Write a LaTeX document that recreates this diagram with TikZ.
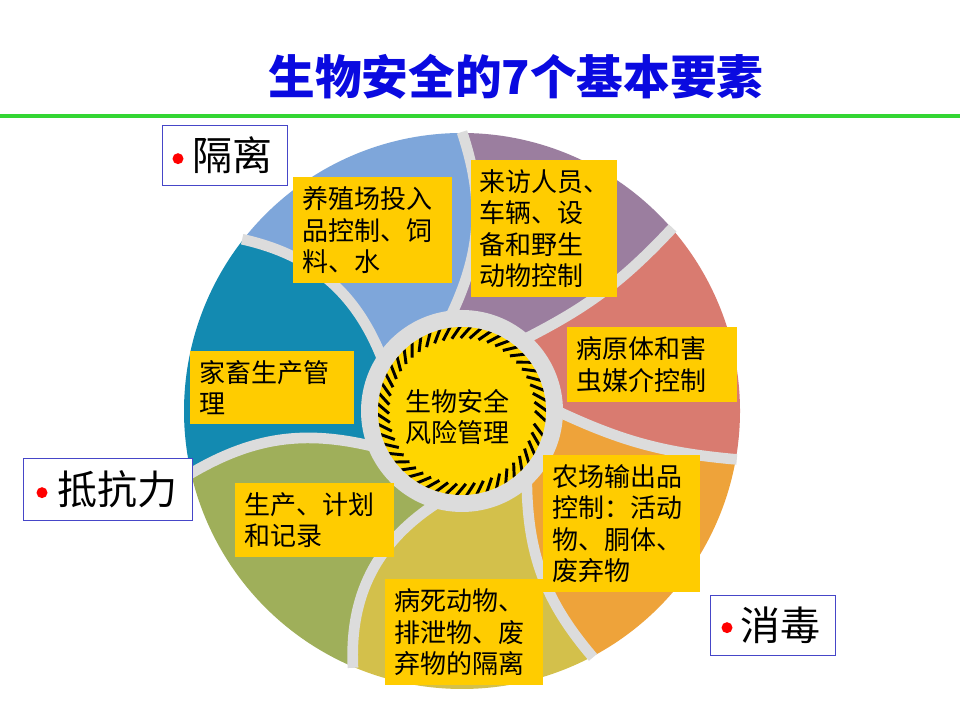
\documentclass[tikz,border=0pt]{standalone}
\usepackage{fontspec}
\usepackage{xcolor}
\usepackage{tikz}
\usetikzlibrary{calc}

\newfontfamily\cjk{Noto Sans CJK SC}

\definecolor{titleblue}{HTML}{0A0AE0}
\definecolor{rulegreen}{HTML}{33D633}
\definecolor{tagyellow}{HTML}{FFCC00}
\definecolor{coreyellow}{HTML}{FFD600}
\definecolor{keyblue}{HTML}{4646C8}
\definecolor{gapgray}{HTML}{DCDCDC}
\definecolor{wblue}{HTML}{7EA6DA}
\definecolor{wpurple}{HTML}{9B7E9F}
\definecolor{wsalmon}{HTML}{D97B70}
\definecolor{worange}{HTML}{EEA33A}
\definecolor{wgold}{HTML}{D3C04B}
\definecolor{wolive}{HTML}{9FAF5A}
\definecolor{wteal}{HTML}{138AB1}

\begin{document}
\begin{tikzpicture}[
    x=0.75pt, y=0.75pt,
    tag/.style={rectangle, fill=tagyellow, anchor=north west, inner xsep=7pt, inner ysep=0pt, align=left, font=\cjk\fontsize{19.5}{23.5}\selectfont},
    keybox/.style={rectangle, draw=keyblue, line width=1pt, fill=white, anchor=north west, inner xsep=11.25pt, inner ysep=0pt, text width=71.25pt, align=right, minimum height=45pt, font=\cjk\fontsize{30}{32}\selectfont},
    reddot/.style={fill=red},
    gap/.style={draw=gapgray, line width=8pt},
    stripe/.style={draw=black, line width=2.2pt}
]

\useasboundingbox (0,0) rectangle (960,720);
\fill[white] (0,0) rectangle (960,720);

% 标题
\node[font=\cjk\bfseries\fontsize{35}{40}\selectfont, text=titleblue] (title) at (516,643) {生物安全的7个基本要素};
\draw[rulegreen, line width=3pt] (0,604) -- (960,604);

% 七个扇区
\coordinate (C) at (462,309);
\foreach \ia/\oa/\ba/\ib/\ob/\bb/\col in {
    147/142/28/97/90/22/wblue,
    97/90/22/49/41/10/wpurple,
    49/41/10/0/-10/10/wsalmon,
    0/-10/10/-47/-62/20/worange,
    -47/-62/20/-105/-113/30/wgold,
    -105/-113/30/-158/-167/22/wolive,
    -158/-167/22/-213/-218/28/wteal}
  \fill[\col] (C) -- ($(C)+(\ia:95)$) to[bend right=\ba] ($(C)+(\oa:278)$)
    arc[start angle=\oa, end angle=\ob, radius=278]
    to[bend left=\bb] ($(C)+(\ib:95)$) -- cycle;

% 扇区之间的缝
\foreach \ia/\oa/\ba in {147/142/28, 97/90/22, 49/41/10, 0/-10/10, -47/-62/20, -105/-113/30, -158/-167/22}
  \draw[gap] ($(C)+(\ia:95)$) to[bend right=\ba] ($(C)+(\oa:279)$);

% 中心
\fill[gapgray] (C) circle[radius=101];
\fill[coreyellow] (C) circle[radius=84];
\begin{scope}
  \clip (C) circle[radius=84];
  \foreach \a in {0,7,...,356}
    \draw[stripe] ($(C)+(\a:73)$) -- ($(C)+(\a-8:87)$);
\end{scope}
\node[font=\cjk\fontsize{19.5}{23.5}\selectfont, align=center] (core) at (457,303) {生物安全\\风险管理};

% 黄色标签
\node[tag, text width=105.25pt, minimum height=79.5pt] (feed) at (293,543) {养殖场投入\\品控制、饲\\料、水};
\node[tag, text width=97.5pt, minimum height=102.75pt, inner xsep=6pt] (visit) at (471,560) {来访人员、\\车辆、设\\备和野生\\动物控制};
\node[tag, text width=113.5pt, minimum height=56.25pt] (vector) at (567,393) {病原体和害\\虫媒介控制};
\node[tag, text width=109pt, minimum height=54.75pt] (herd) at (190,369) {家畜生产管\\理};
\node[tag, text width=103.75pt, minimum height=102.75pt] (output) at (543,265) {农场输出品\\控制：活动\\物、胴体、\\废弃物};
\node[tag, text width=105.25pt, minimum height=55.5pt] (record) at (235,237) {生产、计划\\和记录};
\node[tag, text width=104.5pt, minimum height=79.5pt] (waste) at (385,141) {病死动物、\\排泄物、废\\弃物的隔离};

% 蓝框标签
\node[keybox] (isolate) at (162,595) {隔离};
\node[keybox, text width=104.25pt, minimum height=46.5pt] (resist) at (23,262) {抵抗力};
\node[keybox] (disinfect) at (710,125) {消毒};

\fill[reddot] ($(isolate.west)+(16,-3)$) circle[radius=5.5];
\fill[reddot] ($(resist.west)+(19,-3)$) circle[radius=5.5];
\fill[reddot] ($(disinfect.west)+(17,-2)$) circle[radius=5.5];

\end{tikzpicture}
\end{document}
